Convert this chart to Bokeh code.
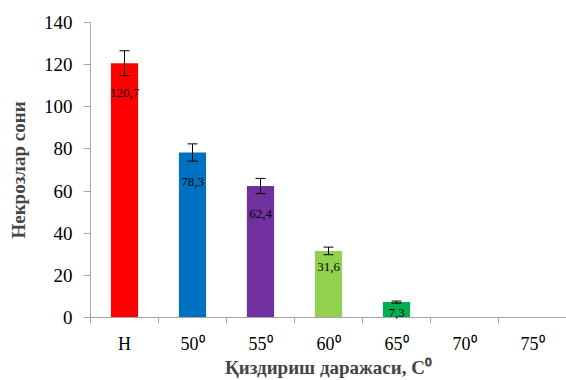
from bokeh.plotting import figure
from bokeh.models import Range1d, FixedTicker, ColumnDataSource, Whisker, NumeralTickFormatter
from bokeh.core.properties import value
from bokeh.embed import file_html
from bokeh.resources import INLINE

categories = ["Н", "50⁰", "55⁰", "60⁰", "65⁰", "70⁰", "75⁰"]
values = [120.7, 78.3, 62.4, 31.6, 7.3, 0, 0]
errors = [5.9, 4.1, 3.6, 1.8, 0.5, 0, 0]
value_labels = ["120,7", "78,3", "62,4", "31,6", "7,3", "", ""]
bar_colors = ["#FF0000", "#0070C0", "#7030A0", "#92D050", "#00B050", "#FFFFFF", "#FFFFFF"]
label_offsets_px = [30, 29, 28, 16, 11, 0, 0]
y_ticks = [0, 20, 40, 60, 80, 100, 120, 140]

FONT = "Liberation Serif"
AXIS_GREY = "#A6A6A6"

centers = [i + 0.5 for i in range(len(categories))]

p = figure(width=566, height=380, output_backend="svg", toolbar_location=None,
           x_range=Range1d(0, len(categories)), y_range=Range1d(0, 140),
           min_border_left=90, min_border_top=22, min_border_bottom=0, min_border_right=0)
p.outline_line_color = None
p.xgrid.visible = False
p.ygrid.visible = False
p.background_fill_color = "white"
p.border_fill_color = "white"

src = ColumnDataSource(dict(x=centers, top=values, color=bar_colors))
p.vbar(x="x", top="top", width=0.4, fill_color="color", line_color=None, source=src)

idx = [i for i in range(len(values)) if errors[i] > 0]
err_src = ColumnDataSource(dict(
    x=[centers[i] for i in idx],
    upper=[values[i] + errors[i] for i in idx],
    lower=[values[i] - errors[i] for i in idx],
))
w = Whisker(base="x", upper="upper", lower="lower", source=err_src, level="overlay",
            line_color="black", line_width=1)
w.upper_head.size = 10
w.lower_head.size = 10
w.upper_head.line_color = "black"
w.lower_head.line_color = "black"
p.add_layout(w)

lab_src = ColumnDataSource(dict(x=centers, y=values, text=value_labels, off=label_offsets_px))
p.text(x="x", y="y", text="text", y_offset="off", source=lab_src,
       text_align="center", text_baseline="middle", text_font=value(FONT),
       text_font_size="13px", text_color="black", level="overlay")

# x axis: labels at centers, tick marks at category boundaries
xa = p.xaxis[0]
xa.ticker = FixedTicker(ticks=centers, minor_ticks=list(range(len(categories) + 1)))
xa.major_label_overrides = {c: lab for c, lab in zip(centers, categories)}
xa.major_tick_out = 0
xa.major_tick_in = 0
xa.minor_tick_out = 6
xa.minor_tick_in = 0
xa.minor_tick_line_color = AXIS_GREY
xa.axis_line_color = AXIS_GREY
xa.major_label_text_font = FONT
xa.major_label_text_font_size = "18px"
xa.major_label_text_color = "black"
xa.major_label_standoff = 10
xa.axis_label = "Қиздириш даражаси, C⁰"
xa.axis_label_text_font = FONT
xa.axis_label_text_font_style = "bold"
xa.axis_label_text_font_size = "19px"
xa.axis_label_standoff = 0

ya = p.yaxis[0]
ya.ticker = FixedTicker(ticks=y_ticks)
ya.formatter = NumeralTickFormatter(format="0")
ya.major_tick_out = 7
ya.major_tick_in = 0
ya.minor_tick_out = 0
ya.minor_tick_in = 0
ya.major_tick_line_color = AXIS_GREY
ya.axis_line_color = AXIS_GREY
ya.major_label_text_font = FONT
ya.major_label_text_font_size = "19px"
ya.major_label_text_color = "black"
ya.major_label_standoff = 11
ya.axis_label = "Некрозлар сони"
ya.axis_label_text_font = FONT
ya.axis_label_text_font_style = "bold"
ya.axis_label_text_font_size = "19px"
ya.axis_label_standoff = 12

open("out.html", "w").write(file_html(p, INLINE))
